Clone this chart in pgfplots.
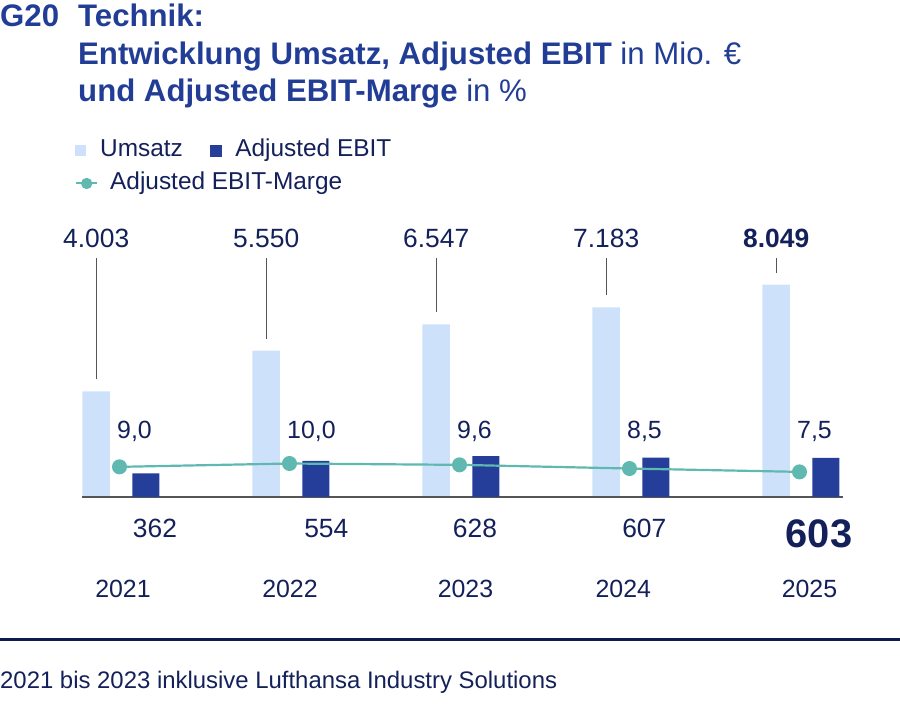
\documentclass[border=0pt]{standalone}
\usepackage{fontspec}
\setmainfont{Liberation Sans}
\usepackage{pgfplots}
\pgfplotsset{compat=1.18}

\definecolor{umsatz}{HTML}{CDE2FA}
\definecolor{ebit}{HTML}{243E9A}
\definecolor{marge}{HTML}{5FB9B1}
\definecolor{titel}{HTML}{223D96}
\definecolor{txt}{HTML}{13205A}
\definecolor{lead}{HTML}{555555}
\definecolor{rulec}{HTML}{0E1A4E}

\pgfplotsset{
  base/.style={
    scale only axis, width=761bp, height=300bp,
    xmin=-0.2206, xmax=4.256, ymin=0,
    hide axis, clip=false,
    at={(82bp,217bp)}, anchor=south west,
    legend cell align=left,
  },
  leg/.style={
    legend style={draw=none, fill=none, inner sep=0pt, anchor=west,
      font=\fontsize{24.5}{28}\selectfont, text=txt,
      nodes={inner sep=0pt, text height=17.5bp, text depth=5bp},
      /tikz/every odd column/.style={column sep=14bp},
      /tikz/every even column/.style={column sep=27bp}},
  },
}
\tikzset{
  lbl/.style={inner sep=0pt, text=txt, font=\fontsize{26.5}{30}\selectfont},
  yr/.style={inner sep=0pt, text=txt, font=\fontsize{25}{30}\selectfont, anchor=base},
  pct/.style={inner sep=0pt, text=txt, font=\fontsize{25}{30}\selectfont, anchor=base west},
}

\begin{document}
\begin{tikzpicture}[x=1bp,y=1bp]
\path[use as bounding box] (0,0) rectangle (900,714);

% title (y measured from the bottom: 714 - pixel row)
\begin{scope}[every node/.style={anchor=base west, inner sep=0pt, text=titel,
    font=\fontsize{31.3}{37.5}\selectfont\bfseries}]
  \node at (0,687) {G20};
  \node at (78,687) {Technik:};
  \node at (78,649) {Entwicklung Umsatz, Adjusted EBIT\mdseries\ in Mio. €};
  \node at (78,612) {und Adjusted EBIT-Marge\mdseries\ in \%};
\end{scope}

% Umsatz
\begin{axis}[base, leg, ymax=11372, legend columns=2,
    legend style={at={(axis description cs:-0.0092,1.155)}}]
  \addplot[ybar, bar width=27.5bp, bar shift=-23.3bp, fill=umsatz, draw=none,
    legend image code/.code={\fill[umsatz] (0bp,-5.5bp) rectangle (11bp,5.5bp);}]
    coordinates {(0,4003) (1,5550) (2,6547) (3,7183) (4,8049)};
  \addlegendentry{Umsatz}
  \addlegendimage{legend image code/.code={\fill[ebit] (0bp,-5.5bp) rectangle (11bp,5.5bp);}}
  \addlegendentry{Adjusted EBIT}

  \draw[lead, line width=1.3bp] (rel axis cs:0,0) -- (rel axis cs:1,0);

  \draw[lead, line width=1.2bp] ([xshift=-23.3bp,yshift=12bp]axis cs:0,4003) -- ([xshift=-23.3bp,yshift=238.5bp]axis cs:0,0);
  \draw[lead, line width=1.2bp] ([xshift=-23.3bp,yshift=12bp]axis cs:1,5550) -- ([xshift=-23.3bp,yshift=238.5bp]axis cs:1,0);
  \draw[lead, line width=1.2bp] ([xshift=-23.3bp,yshift=12bp]axis cs:2,6547) -- ([xshift=-23.3bp,yshift=238.5bp]axis cs:2,0);
  \draw[lead, line width=1.2bp] ([xshift=-23.3bp,yshift=12bp]axis cs:3,7183) -- ([xshift=-23.3bp,yshift=238.5bp]axis cs:3,0);
  \draw[lead, line width=1.2bp] ([xshift=-23.3bp,yshift=12bp]axis cs:4,8049) -- ([xshift=-23.3bp,yshift=238.5bp]axis cs:4,0);

  \node[lbl, anchor=base] at ([xshift=-23.3bp,yshift=249bp]axis cs:0,0) {4.003};
  \node[lbl, anchor=base] at ([xshift=-23.3bp,yshift=249bp]axis cs:1,0) {5.550};
  \node[lbl, anchor=base] at ([xshift=-23.3bp,yshift=249bp]axis cs:2,0) {6.547};
  \node[lbl, anchor=base] at ([xshift=-23.3bp,yshift=249bp]axis cs:3,0) {7.183};
  \node[lbl, anchor=base, font=\fontsize{26.5}{30}\selectfont\bfseries] at ([xshift=-23.3bp,yshift=249bp]axis cs:4,0) {8.049};

  % years
  \node[yr] at ([xshift=3.5bp,yshift=-101bp]axis cs:0,0) {2021};
  \node[yr] at ([xshift=0.5bp,yshift=-101bp]axis cs:1,0) {2022};
  \node[yr] at ([xshift=6bp,yshift=-101bp]axis cs:2,0) {2023};
  \node[yr] at ([xshift=-6.2bp,yshift=-101bp]axis cs:3,0) {2024};
  \node[yr] at ([xshift=10bp,yshift=-101bp]axis cs:4,0) {2025};
\end{axis}

% Adjusted EBIT
\begin{axis}[base, ymax=4615]
  \addplot[ybar, bar width=27bp, bar shift=26.3bp, fill=ebit, draw=none]
    coordinates {(0,362) (1,554) (2,628) (3,607) (4,603)};
  \node[lbl, anchor=base] at ([xshift=35.5bp,yshift=-41bp]axis cs:0,0) {362};
  \node[lbl, anchor=base] at ([xshift=36.8bp,yshift=-41bp]axis cs:1,0) {554};
  \node[lbl, anchor=base] at ([xshift=15.5bp,yshift=-41bp]axis cs:2,0) {628};
  \node[lbl, anchor=base] at ([xshift=14.8bp,yshift=-41bp]axis cs:3,0) {607};
  \node[lbl, anchor=base, font=\fontsize{40}{44}\selectfont\bfseries] at ([xshift=19.5bp,yshift=-51bp]axis cs:4,0) {603};
\end{axis}

% Adjusted EBIT-Marge
\begin{axis}[base, leg, ymax=89.6,
    legend style={at={(axis description cs:-0.0092,1.045)},
      /tikz/every odd column/.style={column sep=12bp}}]
  \addplot[marge, line width=2.2bp, mark=*, mark size=6.4bp,
    mark options={fill=marge, draw=none},
    legend image code/.code={\draw[marge, line width=2bp] (0bp,0bp) -- (21bp,0bp);
      \fill[marge] (10.5bp,0bp) circle (4.5bp);}]
    coordinates {(0,9.0) (1,10.0) (2,9.6) (3,8.5) (4,7.5)};
  \addlegendentry{Adjusted EBIT-Marge}
  \node[pct] at ([xshift=-2.5bp,yshift=58bp]axis cs:0,0) {9,0};
  \node[pct] at ([xshift=-2.5bp,yshift=58bp]axis cs:1,0) {10,0};
  \node[pct] at ([xshift=-2.5bp,yshift=58bp]axis cs:2,0) {9,6};
  \node[pct] at ([xshift=-2.5bp,yshift=58bp]axis cs:3,0) {8,5};
  \node[pct] at ([xshift=-2.5bp,yshift=58bp]axis cs:4,0) {7,5};
\end{axis}

% footer
\draw[rulec, line width=3bp] (0,74) -- (900,74);
\node[anchor=base west, inner sep=0pt, text=txt, font=\fontsize{24}{28}\selectfont]
  at (0,25) {2021 bis 2023 inklusive Lufthansa Industry Solutions};
\end{tikzpicture}
\end{document}
